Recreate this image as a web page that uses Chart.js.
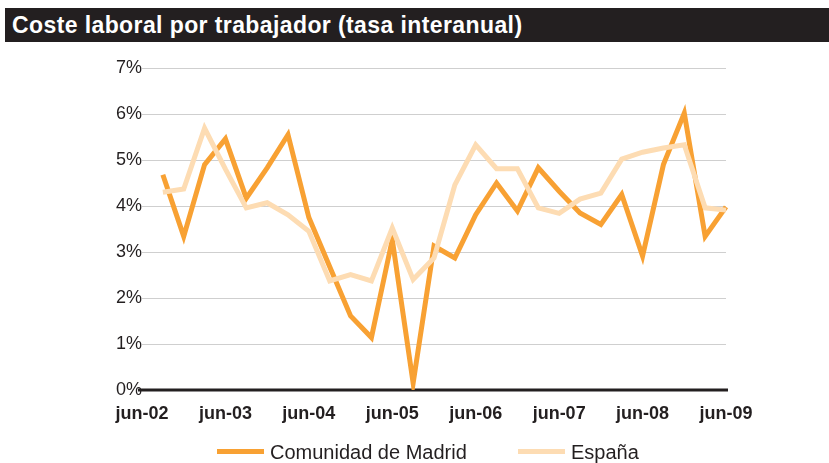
<!DOCTYPE html>
<html>
<head>
<meta charset="utf-8">
<script src="https://cdn.jsdelivr.net/npm/chart.js@4"></script>
<style>
  body { margin: 0; background: #fff; }
  #wrap { position: relative; width: 829px; height: 463px; overflow: hidden; }
  #titulo {
    position: absolute; left: 5px; top: 8px; width: 824px; height: 34px;
    background: #231f20; color: #fff;
    font: bold 23px "Liberation Sans", Arial, sans-serif; letter-spacing: 0.4px;
    line-height: 34px; padding-left: 7px; box-sizing: border-box;
  }
  #leyenda {
    position: absolute; left: 0; top: 442px; width: 829px; height: 21px;
    font: 20px "Liberation Sans", Arial, sans-serif; color: #231f20;
  }
  .item { position: absolute; top: 0; line-height: 21px; white-space: nowrap; }
  .item i { display: inline-block; width: 47px; height: 5px; vertical-align: middle; margin-right: 6px; position: relative; top: -2px; }
</style>
</head>
<body>
<div id="wrap">
  <canvas id="grafico" width="829" height="463"></canvas>
  <div id="titulo">Coste laboral por trabajador (tasa interanual)</div>
  <div id="leyenda"></div>
</div>
<script>
// trimestres, de jun-02 a jun-09
var trimestres = [
  'jun-02','sep-02','dic-02','mar-03','jun-03','sep-03','dic-03','mar-04',
  'jun-04','sep-04','dic-04','mar-05','jun-05','sep-05','dic-05','mar-06',
  'jun-06','sep-06','dic-06','mar-07','jun-07','sep-07','dic-07','mar-08',
  'jun-08','sep-08','dic-08','mar-09','jun-09'
];
var madrid = [
  null, 4.68, 3.34, 4.90, 5.46, 4.17, 4.83, 5.55, 3.75, 2.68, 1.61, 1.14, 3.27, 0.15,
  3.13, 2.87, 3.81, 4.50, 3.89, 4.83, 4.32, 3.85, 3.60, 4.25, 2.91, 4.90, 6.02, 3.34, 3.98
];
var espana = [
  null, 4.30, 4.37, 5.69, 4.80, 3.96, 4.07, 3.81, 3.45, 2.37, 2.51, 2.37, 3.52, 2.40,
  2.87, 4.46, 5.33, 4.81, 4.81, 3.96, 3.84, 4.15, 4.28, 5.02, 5.17, 5.26, 5.33, 3.96, 3.91
];
var series = ['Comunidad de Madrid', 'España'];
var colores = ['#f8a133', '#fddcb3'];
var marcasY = [0, 1, 2, 3, 4, 5, 6, 7];

// linea del eje en 0%
var ejeCero = {
  id: 'ejeCero',
  beforeDatasetsDraw: function(chart) {
    var ctx = chart.ctx, a = chart.chartArea;
    var y = chart.scales.y.getPixelForValue(0);
    ctx.save();
    ctx.strokeStyle = '#231f20';
    ctx.lineWidth = 3;
    ctx.beginPath();
    ctx.moveTo(a.left - 4, y);
    ctx.lineTo(a.right + 2, y);
    ctx.stroke();
    ctx.restore();
  }
};

var ctx = document.getElementById('grafico').getContext('2d');
var chart = new Chart(ctx, {
  type: 'line',
  data: {
    labels: trimestres,
    datasets: [
      { label: series[0], data: madrid, borderColor: colores[0], backgroundColor: colores[0], order: 2 },
      { label: series[1], data: espana, borderColor: colores[1], backgroundColor: colores[1], order: 1 }
    ]
  },
  options: {
    responsive: false,
    animation: false,
    layout: { padding: { left: 0, right: 103, top: 68, bottom: 0 } },
    elements: {
      line: { borderWidth: 5, tension: 0, borderJoinStyle: 'miter', borderCapStyle: 'butt' },
      point: { radius: 0 }
    },
    plugins: { legend: { display: false }, tooltip: { enabled: false } },
    scales: {
      x: {
        offset: false,
        grid: { display: false, drawTicks: false },
        border: { display: false },
        afterFit: function(s) { s.height = 73; },
        ticks: {
          autoSkip: false, maxRotation: 0, padding: 13,
          color: '#231f20',
          font: { family: 'Liberation Sans', size: 18, weight: 'bold' },
          callback: function(v, i) { var t = trimestres[i]; return t.indexOf('jun') === 0 ? t : ''; }
        }
      },
      y: {
        min: 0, max: 7,
        afterFit: function(s) { s.width = 142; },
        afterBuildTicks: function(s) { s.ticks = marcasY.map(function(v) { return { value: v }; }); },
        grid: {
          drawTicks: false,
          lineWidth: 1,
          color: function(c) { return c.tick && c.tick.value === 0 ? 'rgba(0,0,0,0)' : '#cfcfcf'; }
        },
        border: { display: false },
        ticks: {
          padding: 0,
          color: '#231f20',
          font: { family: 'Liberation Sans', size: 18 },
          callback: function(v) { return v + '%'; }
        }
      }
    }
  },
  plugins: [ejeCero]
});

// leyenda
var ley = document.getElementById('leyenda');
var posiciones = [217, 518];
series.forEach(function(nombre, i) {
  var d = document.createElement('span');
  d.className = 'item';
  d.style.left = posiciones[i] + 'px';
  d.innerHTML = '<i style="background:' + colores[i] + '"></i>' + nombre;
  ley.appendChild(d);
});
</script>
</body>
</html>
